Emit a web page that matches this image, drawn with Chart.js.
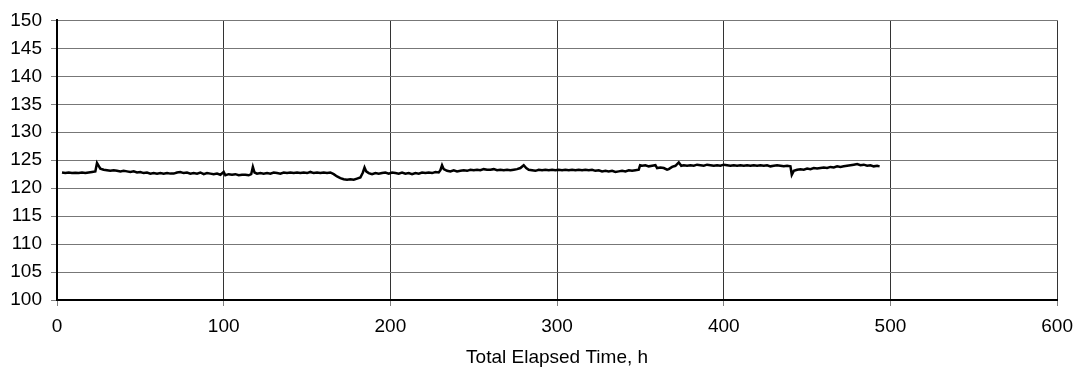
<!DOCTYPE html>
<html>
<head>
<meta charset="utf-8">
<script src="https://cdn.jsdelivr.net/npm/chart.js@4"></script>
<style>
  html, body { margin: 0; padding: 0; background: #fff; }
  #wrap { width: 1082px; height: 375px; }
</style>
</head>
<body>
<div id="wrap"><canvas id="chart"></canvas></div>
<script>
// elapsed time (h) and measured value
const hours = [
  3, 5, 7, 9, 11, 13, 15, 17, 19, 21, 23, 24, 25, 26, 28, 30, 32, 34, 36, 38,
  40, 42, 44, 46, 48, 50, 52, 54, 56, 58, 60, 62, 64, 66, 68, 70, 72, 74, 76, 78,
  80, 82, 84, 86, 88, 90, 92, 94, 96, 98, 100, 101, 103, 105, 107, 109, 111, 113, 115, 116.5,
  117.5, 118.5, 120, 122, 124, 126, 128, 130, 132, 134, 136, 138, 140, 142, 144, 146, 148, 150, 152, 154,
  156, 158, 160, 162, 164, 166, 168, 170, 172, 174, 176, 178, 180, 182, 183.5, 184.5, 185.5, 187, 189, 191,
  193, 195, 197, 199, 201, 203, 205, 207, 209, 211, 213, 215, 217, 219, 221, 223, 225, 227, 229, 230,
  231, 232, 234, 236, 238, 240, 242, 244, 246, 248, 250, 252, 254, 256, 258, 260, 262, 264, 266, 268,
  270, 272, 274, 276, 278, 280, 281.5, 283, 285, 287, 289, 291, 293, 295, 297, 299, 301, 303, 305, 307,
  309, 311, 313, 315, 317, 319, 321, 323, 325, 327, 329, 331, 333, 335, 337, 339, 341, 343, 345, 347,
  349, 349.8, 351, 353, 355, 357, 359, 360, 362, 364, 366, 367, 369, 371, 373, 374.5, 376, 378, 380, 382,
  384, 386, 388, 390, 392, 394, 396, 398, 400, 402, 404, 406, 408, 410, 412, 414, 416, 418, 420, 422,
  424, 426, 428, 430, 432, 434, 436, 438, 440, 440.8, 442, 444, 446, 448, 450, 452, 454, 456, 458, 460,
  462, 464, 466, 468, 470, 472, 474, 476, 478, 480, 482, 484, 486, 488, 490, 492, 493.5
];
const values = [
  122.8, 122.7, 122.8, 122.7, 122.75, 122.7, 122.8, 122.7, 122.8, 122.9, 123.0, 124.5, 124.0, 123.5, 123.3, 123.2, 123.1, 123.2, 123.1, 123.0,
  123.1, 123.0, 122.9, 123.0, 122.8, 122.9, 122.7, 122.8, 122.6, 122.7, 122.6, 122.7, 122.6, 122.7, 122.6, 122.6, 122.8, 122.9, 122.7, 122.8,
  122.6, 122.7, 122.6, 122.8, 122.5, 122.7, 122.6, 122.5, 122.6, 122.4, 122.9, 122.3, 122.5, 122.4, 122.5, 122.3, 122.4, 122.4, 122.3, 122.5,
  123.8, 122.8, 122.6, 122.7, 122.6, 122.7, 122.6, 122.8, 122.7, 122.6, 122.8, 122.7, 122.8, 122.7, 122.8, 122.7, 122.8, 122.7, 122.9, 122.7,
  122.8, 122.7, 122.8, 122.7, 122.8, 122.5, 122.1, 121.8, 121.6, 121.5, 121.6, 121.5, 121.7, 121.9, 122.8, 123.7, 123.0, 122.7, 122.5, 122.7,
  122.6, 122.7, 122.8, 122.6, 122.8, 122.7, 122.6, 122.8, 122.6, 122.7, 122.5, 122.7, 122.6, 122.8, 122.7, 122.8, 122.7, 122.9, 122.8, 123.2,
  124.1, 123.4, 123.1, 123.0, 123.2, 123.0, 123.1, 123.2, 123.1, 123.3, 123.2, 123.3, 123.2, 123.4, 123.3, 123.3, 123.4, 123.2, 123.3, 123.2,
  123.3, 123.2, 123.3, 123.4, 123.6, 124.1, 123.6, 123.3, 123.2, 123.1, 123.3, 123.2, 123.3, 123.2, 123.3, 123.2, 123.3, 123.2, 123.3, 123.2,
  123.3, 123.2, 123.3, 123.2, 123.3, 123.2, 123.3, 123.1, 123.2, 123.0, 123.1, 123.0, 123.1, 122.9, 123.0, 123.1, 123.0, 123.2, 123.1, 123.2,
  123.3, 124.1, 124.0, 124.1, 123.9, 124.0, 124.1, 123.6, 123.7, 123.6, 123.3, 123.4, 123.8, 124.0, 124.6, 124.0, 124.1, 124.0, 124.1, 124.0,
  124.2, 124.1, 124.0, 124.2, 124.1, 124.0, 124.1, 124.0, 124.2, 124.1, 124.0, 124.1, 124.0, 124.1, 124.0, 124.1, 124.0, 124.1, 124.0, 124.1,
  124.0, 124.1, 123.9, 124.0, 124.1, 124.0, 123.9, 124.0, 123.9, 122.4, 123.1, 123.3, 123.4, 123.3, 123.5, 123.4, 123.6, 123.5, 123.6, 123.7,
  123.6, 123.8, 123.7, 123.9, 123.8, 123.9, 124.0, 124.1, 124.2, 124.3, 124.1, 124.2, 124.0, 124.1, 123.9, 124.0, 123.9
];
const yTicks = [100, 105, 110, 115, 120, 125, 130, 135, 140, 145, 150];
const xTicks = [0, 100, 200, 300, 400, 500, 600];

const points = hours.map((h, i) => ({ x: h, y: values[i] }));
const font = { family: 'Liberation Sans, Arial, sans-serif', size: 19 };

new Chart(document.getElementById('chart'), {
  type: 'line',
  data: {
    datasets: [{
      data: points,
      borderColor: '#000',
      borderWidth: 2.5,
      pointRadius: 0,
      tension: 0,
      fill: false
    }]
  },
  options: {
    responsive: true,
    maintainAspectRatio: false,
    animation: false,
    layout: { padding: { top: 19, right: 24, left: 0, bottom: 0 } },
    plugins: { legend: { display: false }, tooltip: { enabled: false } },
    scales: {
      x: {
        type: 'linear',
        min: 0,
        max: 600,
        afterBuildTicks: s => { s.ticks = xTicks.map(v => ({ value: v })); },
        afterFit: s => { s.height = 75; },
        grid: { color: '#333', tickColor: '#808080', tickLength: 6 },
        border: { color: '#000', width: 2 },
        ticks: { color: '#000', font: font, padding: 9, maxRotation: 0 },
        title: {
          display: true,
          text: 'Total Elapsed Time, h',
          color: '#000',
          font: font,
          padding: { top: 4, bottom: 6 }
        }
      },
      y: {
        min: 100,
        max: 150,
        afterBuildTicks: s => { s.ticks = yTicks.map(v => ({ value: v })); },
        afterFit: s => { s.width = 57; },
        grid: { color: '#777', tickColor: '#808080', tickLength: 6 },
        border: { color: '#000', width: 2 },
        ticks: { color: '#000', font: font, padding: 9 }
      }
    }
  }
});
</script>
</body>
</html>
